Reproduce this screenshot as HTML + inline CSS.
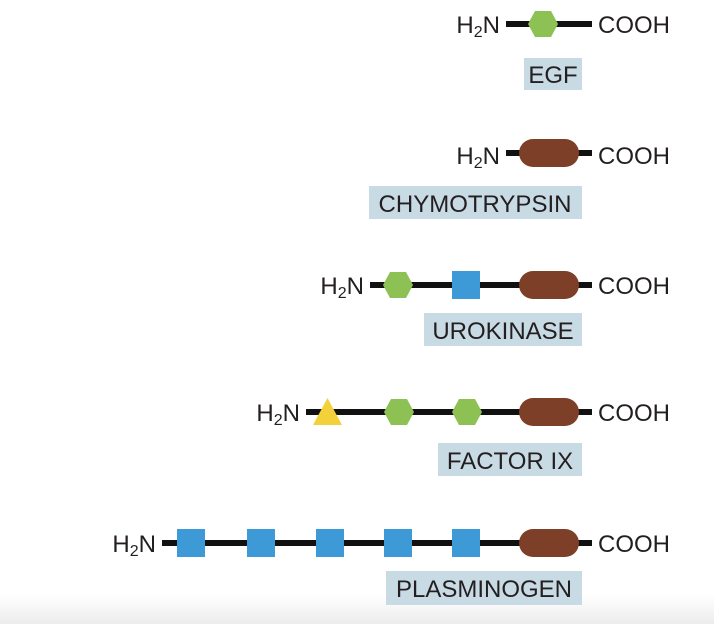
<!DOCTYPE html>
<html><head><style>
body{margin:0;background:#fff;}
svg{display:block}
text{font-family:"Liberation Sans",sans-serif;fill:#231f20;}
</style></head><body>
<svg width="714" height="624" viewBox="0 0 714 624" xmlns="http://www.w3.org/2000/svg">
<defs>
<linearGradient id="bg" x1="0" y1="0" x2="0" y2="1">
<stop offset="0" stop-color="#fff"/><stop offset="1" stop-color="#ececec"/>
</linearGradient>
<polygon id="hex" points="-15,0 -8,-13 8,-13 15,0 8,13 -8,13" fill="#8dc153"/>
<rect id="pill" x="-30" y="-14" width="60" height="28" rx="14" fill="#7d3f27"/>
<rect id="sq" x="-14" y="-14" width="28" height="28" fill="#3d9ad6"/>
</defs>
<rect x="0" y="595" width="714" height="29" fill="url(#bg)"/>
<g font-size="24">
<!-- Row 1 EGF -->
<text x="500" y="33" text-anchor="end">H<tspan font-size="16" dy="4">2</tspan><tspan dy="-4">N</tspan></text>
<rect x="506" y="21" width="86" height="6" fill="#111"/>
<use href="#hex" x="543" y="24"/>
<text x="598" y="33">COOH</text>
<rect x="524" y="58" width="58" height="32" fill="#c8dae4"/>
<text x="553" y="83" text-anchor="middle">EGF</text>
<!-- Row 2 -->
<text x="500" y="164" text-anchor="end">H<tspan font-size="16" dy="4">2</tspan><tspan dy="-4">N</tspan></text>
<rect x="506" y="150" width="86" height="6" fill="#111"/>
<use href="#pill" x="549" y="153"/>
<text x="598" y="164">COOH</text>
<rect x="369" y="186" width="213" height="33" fill="#c8dae4"/>
<text x="475" y="212" text-anchor="middle">CHYMOTRYPSIN</text>
<!-- Row 3 -->
<text x="364" y="294" text-anchor="end">H<tspan font-size="16" dy="4">2</tspan><tspan dy="-4">N</tspan></text>
<rect x="370" y="282" width="222" height="6" fill="#111"/>
<use href="#hex" x="398" y="285"/>
<use href="#sq" x="466" y="285"/>
<use href="#pill" x="549" y="285"/>
<text x="598" y="294">COOH</text>
<rect x="424" y="313" width="158" height="33" fill="#c8dae4"/>
<text x="503" y="339" text-anchor="middle">UROKINASE</text>
<!-- Row 4 -->
<text x="300" y="421" text-anchor="end">H<tspan font-size="16" dy="4">2</tspan><tspan dy="-4">N</tspan></text>
<rect x="306" y="409" width="286" height="6" fill="#111"/>
<polygon points="313,425 342,425 327.5,398" fill="#f2d13a"/>
<use href="#hex" x="399" y="412"/>
<use href="#hex" x="467" y="412"/>
<use href="#pill" x="549" y="412"/>
<text x="598" y="421">COOH</text>
<rect x="438" y="443" width="144" height="33" fill="#c8dae4"/>
<text x="510" y="469" text-anchor="middle">FACTOR IX</text>
<!-- Row 5 -->
<text x="156" y="552" text-anchor="end">H<tspan font-size="16" dy="4">2</tspan><tspan dy="-4">N</tspan></text>
<rect x="162" y="540" width="430" height="6" fill="#111"/>
<use href="#sq" x="191" y="543"/>
<use href="#sq" x="261" y="543"/>
<use href="#sq" x="330" y="543"/>
<use href="#sq" x="398" y="543"/>
<use href="#sq" x="466" y="543"/>
<use href="#pill" x="549" y="543"/>
<text x="598" y="552">COOH</text>
<rect x="386" y="571" width="196" height="34" fill="#c8dae4"/>
<text x="484" y="597" text-anchor="middle">PLASMINOGEN</text>
</g>
</svg>
</body></html>
